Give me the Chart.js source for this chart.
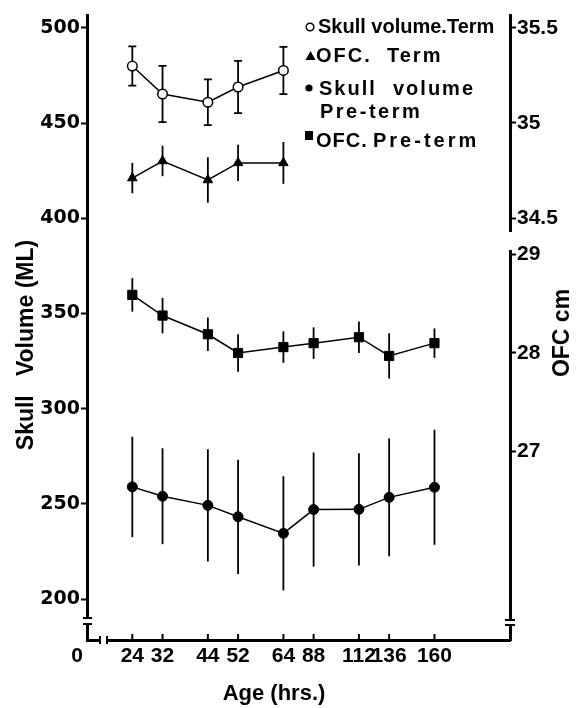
<!DOCTYPE html>
<html><head><meta charset="utf-8">
<script src="https://cdn.jsdelivr.net/npm/chart.js@4"></script>
<style>html,body{margin:0;padding:0;background:#fff}</style>
</head><body>
<canvas id="c" width="587" height="708"></canvas>
<script>
// ---- data ----
const ages = ['24','32','44','52','64','88','112','136','160'];
const termAges = ['24','32','44','52','64'];
const skullTerm    = [480, 465.3, 461, 469, 477.7];
const skullTermErr = [10.3, 14.8, 12, 13.7, 12.4];
const ofcTerm      = [34.71, 34.80, 34.70, 34.79, 34.79];
const ofcTermErr   = [0.08, 0.08, 0.12, 0.095, 0.11];
const skullPre     = [258.9, 254, 249.2, 243.2, 234.5, 247, 247.1, 253.4, 258.7];
const skullPreErr  = [26.4, 25.2, 29.5, 30, 30, 30, 29.5, 31, 30.2];
const ofcPre       = [28.59, 28.38, 28.19, 28.0, 28.06, 28.10, 28.16, 27.97, 28.10];
const ofcPreErr    = [0.17, 0.18, 0.17, 0.19, 0.16, 0.16, 0.16, 0.23, 0.15];
const volumeTicks  = [200, 250, 300, 350, 400, 450, 500];
const ofcTermTicks = [34.5, 35, 35.5];
const ofcPreTicks  = [27, 28, 29];

// ---- layout of the (uneven) age axis: blank slots before each age, and after the last ----
const slotsBefore = [3, 2, 3, 2, 3, 2, 3, 2, 3];
const slotsAfter = 5;
const xLabels = [''];
ages.forEach((a, i) => { for (let k = 1; k < slotsBefore[i]; k++) xLabels.push(''); xLabels.push(a); });
for (let k = 0; k < slotsAfter; k++) xLabels.push('');

const pts = (xs, ys) => xs.map((x, i) => ({x: x, y: ys[i]}));

const B = '"Liberation Sans", Arial, Helvetica, sans-serif';
const tickFontR = {family: B, weight: 'bold', size: 21};
const tickFontL = {family: '"DejaVu Sans", sans-serif', weight: 'bold', size: 19};

const errorBars = {
  id: 'errorBars',
  beforeDatasetsDraw(chart) {
    const ctx = chart.ctx;
    chart.data.datasets.forEach((ds, i) => {
      const meta = chart.getDatasetMeta(i);
      const ys = chart.scales[ds.yAxisID];
      ctx.save();
      ctx.strokeStyle = '#000';
      ctx.lineWidth = 1.8;
      meta.data.forEach((pt, j) => {
        const v = ds.data[j].y, e = ds.errors[j];
        const y1 = ys.getPixelForValue(v + e), y2 = ys.getPixelForValue(v - e);
        ctx.beginPath();
        ctx.moveTo(pt.x, y1); ctx.lineTo(pt.x, y2);
        if (ds.errCap) {
          ctx.moveTo(pt.x - 4, y1); ctx.lineTo(pt.x + 4, y1);
          ctx.moveTo(pt.x - 4, y2); ctx.lineTo(pt.x + 4, y2);
        }
        ctx.stroke();
      });
      ctx.restore();
    });
  }
};

const decorations = {
  id: 'decorations',
  afterDraw(chart) {
    const ctx = chart.ctx;
    const xs = chart.scales.x;
    const area = chart.chartArea;
    ctx.save();
    ctx.fillStyle = '#000';
    ctx.strokeStyle = '#000';
    // inward tick marks on the age axis
    ctx.lineWidth = 2;
    ages.forEach(a => {
      const px = xs.getPixelForValue(xLabels.indexOf(a));
      ctx.beginPath(); ctx.moveTo(px, area.bottom); ctx.lineTo(px, area.bottom - 6); ctx.stroke();
    });
    // axis breaks
    const L = area.left, R = area.right, Bt = area.bottom;
    ctx.fillStyle = '#fff';
    ctx.fillRect(L - 5, 619, 10, 5);
    ctx.fillRect(R - 5, 620, 10, 5);
    ctx.fillRect(R - 5, 232, 10, 18);
    ctx.fillRect(L + 14, Bt - 5, 6, 10);
    ctx.fillStyle = '#000';
    ctx.lineWidth = 2;
    ctx.beginPath();
    ctx.moveTo(L - 4, 618); ctx.lineTo(L + 5, 618);
    ctx.moveTo(L - 4, 624); ctx.lineTo(L + 5, 624);
    ctx.moveTo(R - 5, 620); ctx.lineTo(R + 5, 620);
    ctx.moveTo(R - 5, 625); ctx.lineTo(R + 5, 625);
    ctx.moveTo(L + 13, Bt - 4); ctx.lineTo(L + 13, Bt + 4);
    ctx.moveTo(L + 20, Bt - 4); ctx.lineTo(L + 20, Bt + 4);
    ctx.stroke();
    // origin label
    ctx.font = 'bold 21px ' + B;
    ctx.textAlign = 'center'; ctx.textBaseline = 'alphabetic';
    ctx.fillText('0', 77, 662);
    // axis titles
    ctx.font = 'bold 22px ' + B;
    ctx.fillText('Age (hrs.)', 274, 700);
    ctx.save();
    ctx.translate(27, 345); ctx.rotate(-Math.PI / 2);
    ctx.textBaseline = 'middle';
    ctx.font = 'bold 23px ' + B;
    ctx.fillText('Skull   Volume (ML)', 0, 0);
    ctx.restore();
    ctx.save();
    ctx.translate(563, 333); ctx.rotate(-Math.PI / 2);
    ctx.textBaseline = 'middle';
    ctx.font = 'bold 23px ' + B;
    ctx.fillText('OFC cm', 0, 0);
    ctx.restore();
    // legend
    ctx.textAlign = 'left'; ctx.textBaseline = 'alphabetic';
    ctx.font = 'bold 20px ' + B;
    ctx.lineWidth = 1.5;
    ctx.beginPath(); ctx.arc(310, 27, 3.8, 0, Math.PI * 2); ctx.stroke();
    ctx.fillText('Skull volume.Term', 318, 33);
    ctx.beginPath(); ctx.moveTo(310.5, 51); ctx.lineTo(315.5, 60); ctx.lineTo(305.5, 60); ctx.closePath(); ctx.fill();
    ctx.letterSpacing = '2px';
    ctx.fillText('OFC.', 316, 62);
    ctx.fillText('Term', 387, 62);
    ctx.beginPath(); ctx.arc(309, 88, 3.6, 0, Math.PI * 2); ctx.fill();
    ctx.fillText('Skull', 319, 95);
    ctx.fillText('volume', 393, 95);
    ctx.letterSpacing = '2.5px';
    ctx.fillText('Pre-term', 320, 118);
    ctx.fillRect(305, 131, 8, 9);
    ctx.letterSpacing = '1px';
    ctx.fillText('OFC.', 316, 147);
    ctx.letterSpacing = '3px';
    ctx.fillText('Pre-term', 373, 147);
    ctx.restore();
  }
};

const fixV = w => s => { s.width = w; s.paddingTop = 0; s.paddingBottom = 0; };

new Chart(document.getElementById('c'), {
  type: 'line',
  data: {
    labels: xLabels,
    datasets: [
      { label: 'Skull volume.Term', data: pts(termAges, skullTerm), errors: skullTermErr, errCap: true,
        yAxisID: 'y', borderColor: '#000', borderWidth: 1.5, pointStyle: 'circle', pointRadius: 4.8,
        pointBackgroundColor: '#fff', pointBorderColor: '#000', pointBorderWidth: 1.5 },
      { label: 'OFC. Term', data: pts(termAges, ofcTerm), errors: ofcTermErr,
        yAxisID: 'yTerm', borderColor: '#000', borderWidth: 1.5, pointStyle: 'triangle', pointRadius: 5.5,
        pointBackgroundColor: '#000', pointBorderColor: '#000', pointBorderWidth: 1 },
      { label: 'Skull volume Pre-term', data: pts(ages, skullPre), errors: skullPreErr,
        yAxisID: 'y', borderColor: '#000', borderWidth: 1.5, pointStyle: 'circle', pointRadius: 5,
        pointBackgroundColor: '#000', pointBorderColor: '#000', pointBorderWidth: 1 },
      { label: 'OFC. Pre-term', data: pts(ages, ofcPre), errors: ofcPreErr,
        yAxisID: 'yPre', borderColor: '#000', borderWidth: 1.5, pointStyle: 'rect', pointRadius: 6.5,
        pointBackgroundColor: '#000', pointBorderColor: '#000', pointBorderWidth: 1 }
    ]
  },
  options: {
    responsive: false, animation: false, devicePixelRatio: 1,
    layout: { padding: { top: 15, left: 0, right: 0, bottom: 0 } },
    plugins: { legend: { display: false }, tooltip: { enabled: false } },
    elements: { line: { tension: 0, fill: false } },
    scales: {
      x: {
        type: 'category', position: 'bottom', offset: false,
        grid: { display: false, drawTicks: false },
        border: { display: true, color: '#000', width: 3 },
        ticks: { autoSkip: false, maxRotation: 0, minRotation: 0, padding: 4, color: '#000', font: tickFontR },
        afterFit(s) { s.height = 68; s.paddingLeft = 0; s.paddingRight = 0; }
      },
      y: {
        position: 'left', min: 178.46, max: 506.83,
        afterBuildTicks(s) { s.ticks = volumeTicks.map(v => ({value: v})); },
        grid: { drawOnChartArea: false, drawTicks: true, tickLength: 6, tickWidth: 2, color: '#000' },
        border: { display: true, color: '#000', width: 3 },
        ticks: { padding: 1, color: '#000', font: tickFontL },
        afterFit: fixV(87)
      },
      yTerm: {
        position: 'right', stack: 'ofc', stackWeight: 226, min: 34.379, max: 35.568,
        afterBuildTicks(s) { s.ticks = ofcTermTicks.map(v => ({value: v})); },
        grid: { drawOnChartArea: false, drawTicks: true, tickLength: 6, tickWidth: 2, color: '#000' },
        border: { display: true, color: '#000', width: 3 },
        ticks: { padding: 1, color: '#000', font: tickFontR, callback: v => String(v) },
        afterFit: fixV(77)
      },
      yPre: {
        position: 'right', stack: 'ofc', stackWeight: 399, min: 25.086, max: 29.137,
        afterBuildTicks(s) { s.ticks = ofcPreTicks.map(v => ({value: v})); },
        grid: { drawOnChartArea: false, drawTicks: true, tickLength: 6, tickWidth: 2, color: '#000' },
        border: { display: true, color: '#000', width: 3 },
        ticks: { padding: 1, color: '#000', font: tickFontR, callback: v => String(v) },
        afterFit: fixV(77)
      }
    }
  },
  plugins: [errorBars, decorations]
});
</script>
</body></html>
